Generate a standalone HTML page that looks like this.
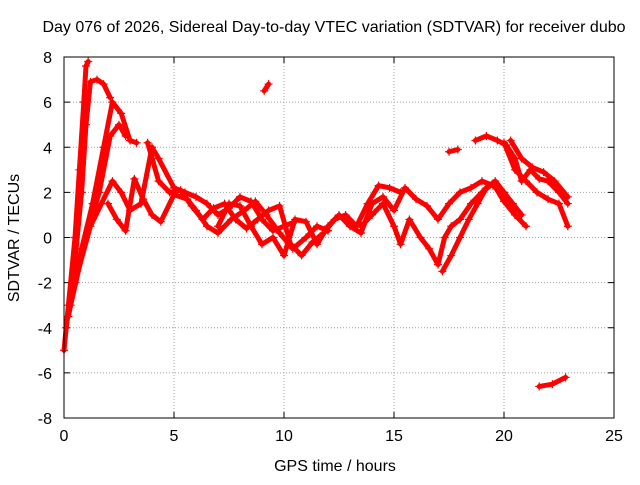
<!DOCTYPE html>
<html><head><meta charset="utf-8"><style>
body{margin:0;background:#fff;font-family:"Liberation Sans",sans-serif}
svg text{font-family:"Liberation Sans",sans-serif;font-size:16px;fill:#000}
</style></head><body>
<svg id="c" width="640" height="480">
<text x="334" y="32" text-anchor="middle">Day 076 of 2026, Sidereal Day-to-day VTEC variation (SDTVAR) for receiver dubo</text>
<text x="335" y="471" text-anchor="middle">GPS time / hours</text>
<text transform="translate(19,238) rotate(-90)" text-anchor="middle">SDTVAR / TECUs</text>
<g id="grid"></g><g id="ticks"></g><g id="marks"></g>
<rect x="64" y="57" width="550" height="361" fill="none" stroke="#000"/>
</svg>
<script>
const xTicks=[0,5,10,15,20,25];
const yTicks=[-8,-6,-4,-2,0,2,4,6,8];
const track1=[[0,-5],[0.2,-3],[0.5,0],[0.7,3],[0.9,6],[1.0,7.6],[1.1,7.8]];
const track2=[[0.1,-4],[0.5,-1],[0.8,2],[1.0,5],[1.2,6.9],[1.5,7],[1.8,6.8],[2.1,6.2]];
const track3=[[0.2,-3.5],[0.8,-0.5],[1.3,1.5],[1.8,4],[2.2,6],[2.6,5.5],[3,4.3],[3.3,4.2]];
const track4=[[0.3,-3],[1,0],[1.6,2],[2.1,4.5],[2.5,5],[2.8,4.5]];
const track5=[[0.5,-2],[1.2,0.5],[1.7,1.5],[2.2,2.5],[2.6,2],[3.0,1.2],[3.5,1.5],[4,4],[4.3,3.5],[5,2.2],[5.5,2],[6,1.8],[6.5,1.5],[7,1.0],[7.5,1.3],[8,1.8],[8.5,1.6],[9,0.8],[9.5,0.3],[10,0.5],[10.5,0.7]];
const track6=[[2,1.5],[2.4,0.8],[2.8,0.3],[3.2,2.6],[3.6,1.7],[4,1],[4.4,0.7],[5,1.9],[5.6,1.7],[6,1.2],[6.5,0.5],[7,0.2],[7.6,0.8],[8.2,1.2],[8.7,1.6],[9.2,1.0],[9.8,0.2],[10.4,-0.5],[11,0],[11.5,0.5],[12,0.3]];
const track7=[[3.8,4.2],[4.3,2.5],[4.8,2],[5.3,2.1],[5.8,1.4],[6.3,0.8],[6.8,1.3],[7.3,1.5],[7.8,0.8],[8.3,0.4],[8.8,0.8],[9.3,1.2],[9.8,1.4],[10.3,-0.3],[10.8,-0.8],[11.3,-0.2],[11.8,0.2],[12.3,0.8],[12.8,1.0],[13.3,0.5],[13.8,1.5],[14.3,2.3],[14.8,2.2],[15.3,2.0]];
const track8=[[7,0.5],[7.5,1.5],[8,1.4],[8.5,0.5],[9,-0.3],[9.5,0],[10,-0.8],[10.5,0.8],[11,0.7],[11.5,-0.3],[12,0.5],[12.5,1],[13,0.5],[13.5,0.2],[14,1.5],[14.5,1.8],[15,1.2],[15.5,2.2],[16,1.7],[16.5,1.4],[17,0.8],[17.5,1.5],[18,2.0],[18.5,2.2],[19,2.5],[19.5,2.3],[20,2.0],[20.5,1.0],[21,0.5]];
const track9=[[13.5,0.5],[14,1.0],[14.5,1.5],[15,0.5],[15.3,-0.3],[15.7,0.8],[16.2,0],[16.6,-0.5],[17,-1.2],[17.3,0],[17.6,0.5],[18,0.8],[18.5,1.5],[19,2],[19.5,2.4],[20,1.6],[20.5,1.0]];
const track10=[[17.2,-1.5],[17.6,-0.8],[18,0],[18.4,0.8],[18.8,1.5],[19.2,2.2],[19.6,2.5],[20,2.0],[20.4,1.5],[20.8,1.0]];
const track11=[[18.7,4.3],[19.2,4.5],[19.7,4.3],[20.1,4.1],[20.5,3.5],[20.8,2.5],[21.2,3],[21.6,2.6],[22,2.5],[22.5,2],[22.9,1.5]];
const track12=[[20,4.2],[20.5,3],[21,2.5],[21.5,2.0],[22,1.7],[22.5,1.5],[22.9,0.5]];
const track13=[[20.3,4.3],[20.8,3.5],[21.3,3.1],[21.8,2.9],[22.3,2.5],[22.9,1.8]];
const track14=[[9.1,6.5],[9.3,6.8]];
const track15=[[17.5,3.8],[17.9,3.9]];
const track16=[[21.6,-6.6],[22.2,-6.5],[22.8,-6.2]];
const tracks=[track1,track2,track3,track4,track5,track6,track7,track8,track9,track10,track11,track12,track13,track14,track15,track16];
const NS='http://www.w3.org/2000/svg';
const X=v=>64+v*22, Y=v=>237.5-v*22.5625;
function mk(t,a,p){const e=document.createElementNS(NS,t);for(const k in a)e.setAttribute(k,a[k]);p.appendChild(e);return e;}
const grid=document.getElementById('grid'),ticks=document.getElementById('ticks'),marks=document.getElementById('marks');
xTicks.forEach(v=>{
 if(v>0&&v<25){const g=mk('line',{x1:X(v),x2:X(v),y1:57,y2:418,stroke:'#a0a0a0','stroke-dasharray':'1,2'},grid);
 
 }
 const t=mk('text',{x:X(v),y:441,'text-anchor':'middle'},ticks);t.textContent=v;
 
 
 mk('line',{x1:X(v),x2:X(v),y1:418,y2:412,stroke:'#000'},ticks);mk('line',{x1:X(v),x2:X(v),y1:57,y2:63,stroke:'#000'},ticks);
});
yTicks.forEach(v=>{
 if(v>-8&&v<8){const g=mk('line',{x1:64,x2:614,y1:Y(v),y2:Y(v),stroke:'#a0a0a0','stroke-dasharray':'1,2'},grid);
 
 }
 const t=mk('text',{x:52,y:Y(v)+6,'text-anchor':'end'},ticks);t.textContent=v;
 
 
 mk('line',{x1:64,x2:70,y1:Y(v),y2:Y(v),stroke:'#000'},ticks);mk('line',{x1:614,x2:608,y1:Y(v),y2:Y(v),stroke:'#000'},ticks);
});
tracks.forEach(tr=>{
 const pl=mk('polyline',{points:tr.map(p=>X(p[0])+','+Y(p[1])).join(' '),fill:'none',stroke:'#ff0000','stroke-width':5,'stroke-linejoin':'round','stroke-linecap':'round'},marks);
 
 
 tr.forEach(p=>{
  const m=mk('path',{d:`M${X(p[0])-4},${Y(p[1])}h8M${X(p[0])},${Y(p[1])-4}v8`,stroke:'#ff0000','stroke-width':1.2},marks);
  
  
 });
});
</script>
</body></html>
